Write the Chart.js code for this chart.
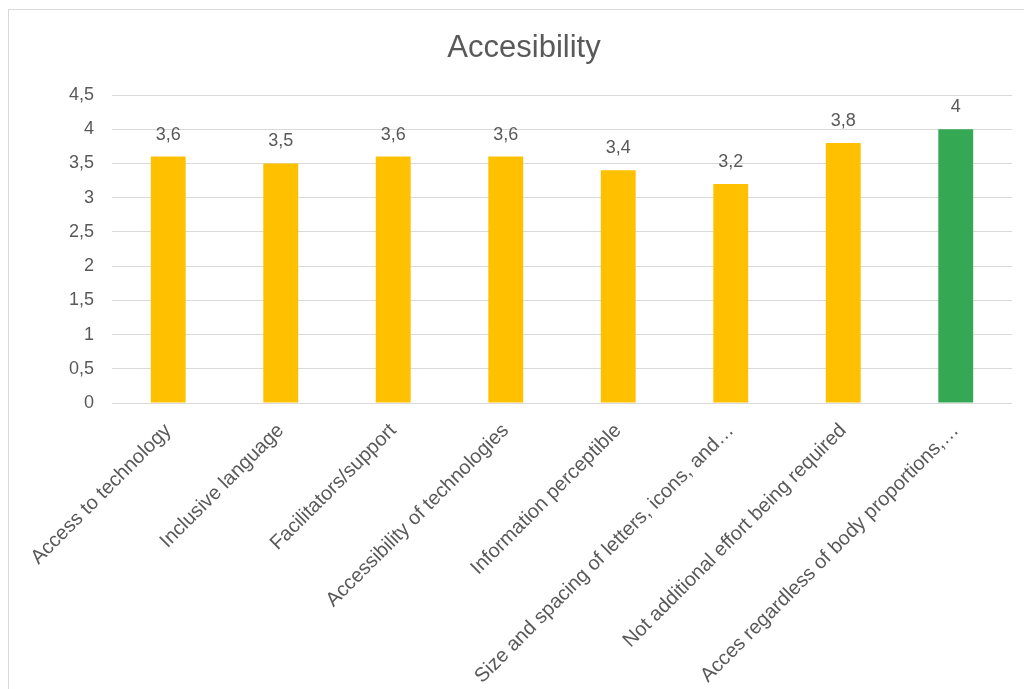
<!DOCTYPE html>
<html>
<head>
<meta charset="utf-8">
<script src="https://cdn.jsdelivr.net/npm/chart.js@4/dist/chart.umd.min.js"></script>
<style>
  html, body { margin: 0; padding: 0; background: #fff; overflow: hidden; }
  #frame { position: absolute; left: 8px; top: 9px; width: 1100px; height: 800px; border: 1px solid #d9d9d9; box-sizing: border-box; }
  #wrap { position: absolute; left: 0; top: 0; width: 1024px; height: 689px; }
</style>
</head>
<body>
<div id="frame"></div>
<div id="wrap"><canvas id="c" width="1024" height="689"></canvas></div>
<script>
const categories = [
  "Access to technology",
  "Inclusive language",
  "Facilitators/support",
  "Accessibility of technologies",
  "Information perceptible",
  "Size and spacing of letters, icons, and…",
  "Not additional effort being required",
  "Acces regardless of body proportions,…"
];
const scores = [3.6, 3.5, 3.6, 3.6, 3.4, 3.2, 3.8, 4];
const barColors = ["#FFC000", "#FFC000", "#FFC000", "#FFC000", "#FFC000", "#FFC000", "#FFC000", "#34A853"];
const yTicks = [0, 0.5, 1, 1.5, 2, 2.5, 3, 3.5, 4, 4.5];
const titleText = "Accesibility";

const fmt = v => String(v).replace('.', ',');
const FONT = "'Liberation Sans', Arial, sans-serif";
const TXT = "#595959";

const valueLabels = {
  id: 'valueLabels',
  afterDatasetsDraw(chart) {
    const ctx = chart.ctx;
    const meta = chart.getDatasetMeta(0);
    ctx.save();
    ctx.font = "18px " + FONT;
    ctx.fillStyle = TXT;
    ctx.textAlign = 'center';
    ctx.textBaseline = 'middle';
    meta.data.forEach((bar, i) => {
      ctx.fillText(fmt(chart.data.datasets[0].data[i]), bar.x, bar.y - 22);
    });
    ctx.restore();
  }
};

const chartTitle = {
  id: 'chartTitle',
  afterDraw(chart) {
    const ctx = chart.ctx;
    ctx.save();
    ctx.font = "31px " + FONT;
    ctx.fillStyle = TXT;
    ctx.textAlign = 'center';
    ctx.textBaseline = 'middle';
    ctx.fillText(titleText, 524, 48);
    ctx.restore();
  }
};

new Chart(document.getElementById('c'), {
  type: 'bar',
  data: {
    labels: categories,
    datasets: [{
      data: scores,
      backgroundColor: barColors,
      barPercentage: 0.31,
      categoryPercentage: 1.0
    }]
  },
  options: {
    responsive: false,
    animation: false,
    layout: { padding: { left: 0, right: 12, top: 95, bottom: 0 } },
    plugins: {
      legend: { display: false },
      tooltip: { enabled: false },
      title: { display: false }
    },
    scales: {
      x: {
        grid: { display: false, drawTicks: false },
        border: { display: false },
        ticks: {
          color: TXT,
          font: { family: FONT, size: 20 },
          minRotation: 45,
          maxRotation: 45,
          autoSkip: false,
          padding: 16
        },
        afterFit(scale) { scale.height = 286; }
      },
      y: {
        min: 0,
        max: 4.5,
        afterBuildTicks(scale) { scale.ticks = yTicks.map(v => ({ value: v })); },
        grid: { color: '#d9d9d9', lineWidth: 1, drawTicks: false },
        border: { display: false },
        ticks: {
          color: TXT,
          font: { family: FONT, size: 18 },
          padding: 18,
          callback: v => fmt(v)
        },
        afterFit(scale) { scale.width = 112; }
      }
    }
  },
  plugins: [valueLabels, chartTitle]
});
</script>
</body>
</html>
